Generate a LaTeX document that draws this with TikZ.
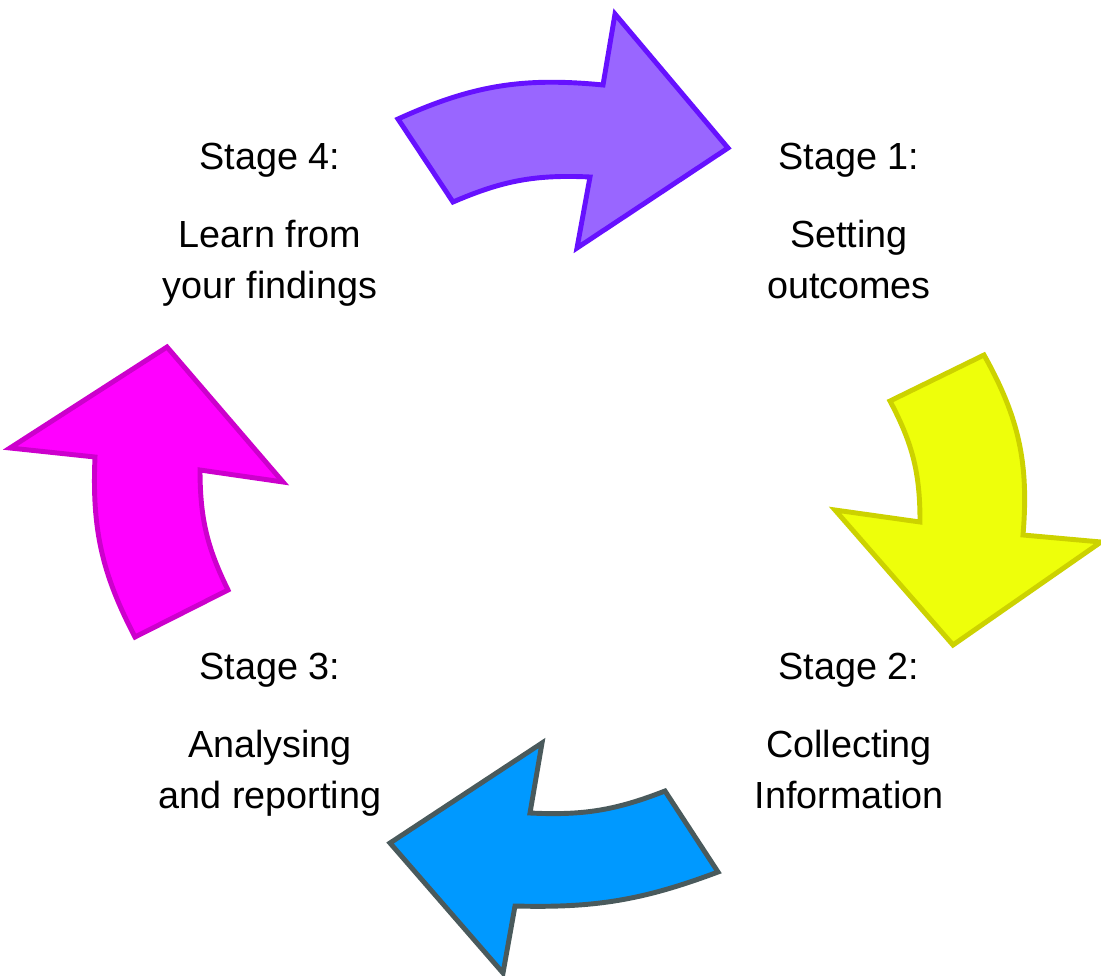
\documentclass[tikz,border=0pt]{standalone}
\usepackage{fontspec}
\setmainfont{Liberation Sans}
\definecolor{violetfill}{RGB}{153,102,255}
\definecolor{violetline}{RGB}{102,17,255}
\definecolor{yellowfill}{RGB}{238,255,10}
\definecolor{yellowline}{RGB}{204,210,0}
\definecolor{bluefill}{RGB}{0,153,255}
\definecolor{blueline}{RGB}{74,90,92}
\definecolor{pinkfill}{RGB}{255,0,255}
\definecolor{pinkline}{RGB}{204,0,204}
\begin{document}
\begin{tikzpicture}[x=0.02cm,y=-0.02cm,
    stage text/.style={align=center,anchor=base,inner sep=0pt,font=\fontsize{21.5}{28.5}\selectfont},
    cycle arrow/.style={line width=2.8pt,line join=miter}]
    \useasboundingbox (0,0) rectangle (1101,976);

    \node[stage text] at (270,298) (s4) {Stage 4:\\[16pt]Learn from\\your findings};
    \node[stage text] at (849,298) (s1) {Stage 1:\\[16pt]Setting\\outcomes};
    \node[stage text] at (849,808) (s2) {Stage 2:\\[16pt]Collecting\\Information};
    \node[stage text] at (270,808) (s3) {Stage 3:\\[16pt]Analysing\\and reporting};

    % top arrow, stage 4 to stage 1
    \draw[cycle arrow, draw=violetline, fill=violetfill]
        (398,119) to[bend left=15] (603,85) -- (615,14) -- (728,148) -- (577,248)
        -- (590,177) to[bend right=13] (453,202) -- cycle;
    % right arrow, stage 1 to stage 2
    \draw[cycle arrow, draw=yellowline, fill=yellowfill]
        (984,355) to[bend left=17] (1023,535) -- (1101,542) -- (953,645) -- (835,510)
        -- (920,522) to[bend right=14] (890,401) -- cycle;
    % bottom arrow, stage 2 to stage 3
    \draw[cycle arrow, draw=blueline, fill=bluefill]
        (665,791) -- (718,872) to[bend left=11] (515,906) -- (503,973) -- (390,843)
        -- (542,743) -- (530,813) to[bend right=12] cycle;
    % left arrow, stage 3 to stage 4
    \draw[cycle arrow, draw=pinkline, fill=pinkfill]
        (167,347) -- (283,482) -- (200,470) to[bend right=13] (228,590) -- (135,637)
        to[bend left=15] (95,457) -- (10,448) -- cycle;
\end{tikzpicture}
\end{document}
